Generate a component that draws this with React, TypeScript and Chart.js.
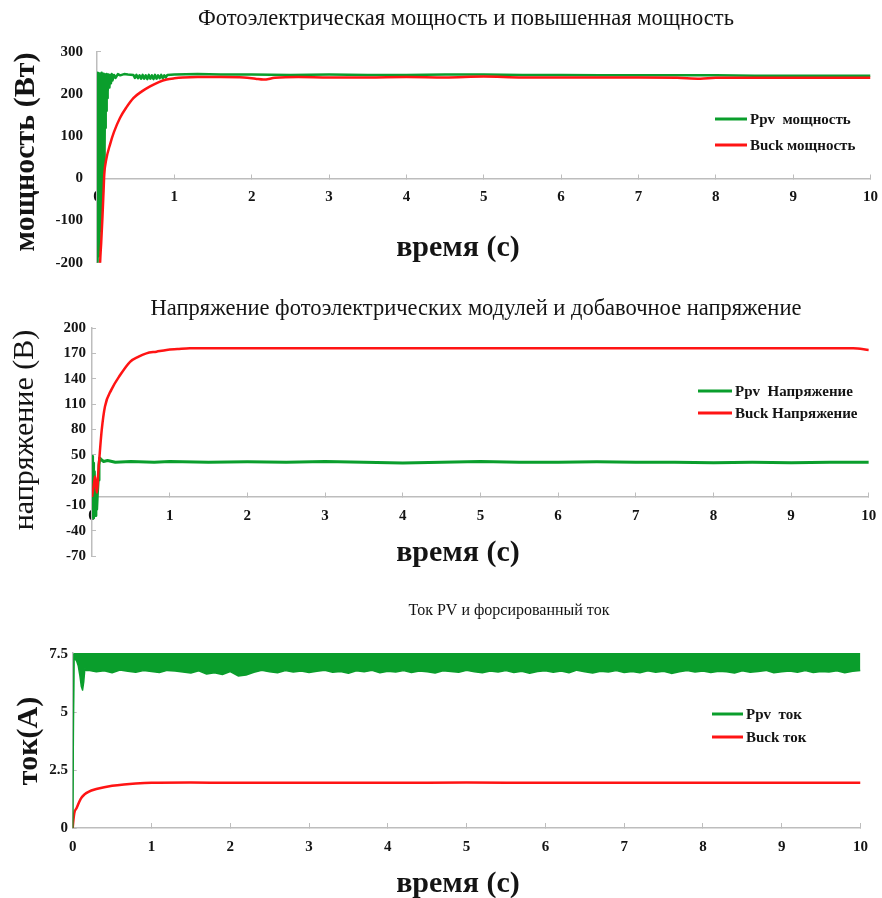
import React, { useEffect, useRef } from "react";
import { Chart, registerables } from "chart.js";
Chart.register(...registerables);

const GREEN = "#0a9e2c";
const RED = "#ff1414";
const AXIS = "#bdbdbd";
const TEXT = "#141414";
const SERIF = "'Liberation Serif', 'Times New Roman', serif";
const TICK_FONT = { family: SERIF, size: 15, weight: "bold" as const };

// ---------- Chart 1: power (W) ----------
const ppvPowerTime = [0, 0.003, 0.006, 0.009, 0.012, 0.016, 0.02, 0.024, 0.028, 0.032, 0.036, 0.04, 0.044, 0.048, 0.052, 0.056, 0.06, 0.064, 0.068, 0.072, 0.076, 0.08, 0.084, 0.088, 0.092, 0.096, 0.1, 0.105, 0.11, 0.115, 0.12, 0.125, 0.13, 0.135, 0.14, 0.15, 0.16, 0.17, 0.18, 0.19, 0.2, 0.22, 0.24, 0.27, 0.3, 0.35, 0.4,
  0.47, 0.49, 0.51, 0.53, 0.55, 0.57, 0.59, 0.61, 0.63, 0.65, 0.67, 0.69, 0.71, 0.73, 0.75, 0.77, 0.79, 0.81, 0.83, 0.85, 0.87, 0.89, 0.91,
  1.0, 1.3, 1.6, 2.0, 2.5, 3.0, 3.5, 4.0, 4.5, 5.0, 5.5, 6.0, 6.5, 7.0, 7.5, 8.0, 8.5, 9.0, 9.5, 10];
const ppvPower = [0, 248, -198, 250, -195, 246, -185, 249, -170, 244, -150, 248, -125, 245, -100, 250, -70, 244, -45, 247, -20, 243, 5, 248, 30, 245, 70, 246, 120, 244, 160, 247, 190, 243, 205, 246, 215, 244, 225, 247, 232, 245, 238, 247, 244, 247, 246,
  245, 238, 245, 237, 244, 236, 245, 236, 244, 235, 245, 236, 244, 235, 245, 236, 244, 237, 245, 237, 244, 239, 245,
  246, 247, 246, 246, 245, 246, 245, 245, 246, 246, 245, 245, 244, 244, 244, 244, 243, 243, 243, 243];
const buckPowerTime = [0.03, 0.04, 0.055, 0.07, 0.085, 0.094, 0.12, 0.168, 0.22, 0.297, 0.38, 0.47, 0.58, 0.686, 0.8, 0.9, 1.0, 1.11, 1.3, 1.6, 1.9, 2.05, 2.15, 2.3, 2.6, 3.0, 3.5, 4.0, 4.5, 5.0, 5.5, 6.0, 6.5, 7.0, 7.5, 7.8, 8.0, 8.5, 9.0, 9.5, 10];
const buckPower = [-260, -200, -150, -94, -30, 9, 45, 80, 110, 143, 168, 190, 206, 218, 228, 234, 237, 239, 240, 240, 239, 236, 234, 238, 240, 239, 239, 240, 239, 241, 239, 239, 239, 239, 238, 236, 238, 238, 238, 238, 238];

// ---------- Chart 2: voltage (V) ----------
const ppvVoltTime = [0, 0.005, 0.01, 0.015, 0.02, 0.03, 0.04, 0.05, 0.06, 0.07, 0.08, 0.09, 0.1, 0.12, 0.15, 0.2, 0.3, 0.5, 0.8, 1, 1.5, 2, 2.5, 3, 3.5, 4, 4.5, 5, 5.5, 6, 6.5, 7, 7.5, 8, 8.5, 9, 9.5, 10];
const ppvVolt = [-5, 48, -20, 40, -25, 30, -22, 15, -15, 5, 20, 38, 46, 44, 42, 43, 41, 42, 41, 42, 41, 41.5, 41, 42, 41, 40, 41, 42, 41, 41, 41.5, 41, 41, 40.5, 41, 40.5, 41, 41];
const buckVoltTime = [0, 0.02, 0.04, 0.055, 0.065, 0.08, 0.1, 0.125, 0.167, 0.25, 0.36, 0.49, 0.6, 0.7, 0.83, 0.96, 1.1, 1.26, 1.5, 2, 3, 4, 5, 6, 7, 8, 9, 9.8, 10];
const buckVolt = [0, 12, 24, 10, 5, 28, 52, 79, 107, 127, 144, 160, 166, 170, 172, 174, 175, 176, 176, 176, 176, 176, 176, 176, 176, 176, 176, 176, 174];

// ---------- Chart 3: current (A) ----------
const currentTime = [0, 0.008, 0.017, 0.03, 0.05, 0.07, 0.09, 0.11, 0.125, 0.14, 0.155, 0.17,
  0.2, 0.3, 0.4, 0.5, 0.6, 0.7, 0.8, 0.9, 1.0,
  1.1, 1.2, 1.3, 1.4, 1.5, 1.6, 1.7, 1.8, 1.9, 2.0,
  2.1, 2.2, 2.3, 2.4, 2.5, 2.6, 2.7, 2.8, 2.9, 3.0,
  3.1, 3.2, 3.3, 3.4, 3.5, 3.6, 3.7, 3.8, 3.9, 4.0,
  4.1, 4.2, 4.3, 4.4, 4.5, 4.6, 4.7, 4.8, 4.9, 5.0,
  5.1, 5.2, 5.3, 5.4, 5.5, 5.6, 5.7, 5.8, 5.9, 6.0,
  6.1, 6.2, 6.3, 6.4, 6.5, 6.6, 6.7, 6.8, 6.9, 7.0,
  7.1, 7.2, 7.3, 7.4, 7.5, 7.6, 7.7, 7.8, 7.9, 8.0,
  8.1, 8.2, 8.3, 8.4, 8.5, 8.6, 8.7, 8.8, 8.9, 9.0,
  9.1, 9.2, 9.3, 9.4, 9.5, 9.6, 9.7, 9.8, 9.9, 10.0];
const ppvCurrentHigh = [0, 3.8, 7.8, 7.8, 7.8, 7.8, 7.8, 7.8, 7.8, 7.8, 7.8, 7.8,
  7.8, 7.8, 7.8, 7.8, 7.8, 7.8, 7.8, 7.8, 7.8,
  7.8, 7.8, 7.8, 7.8, 7.8, 7.8, 7.8, 7.8, 7.8, 7.8,
  7.8, 7.8, 7.8, 7.8, 7.8, 7.8, 7.8, 7.8, 7.8, 7.8,
  7.8, 7.8, 7.8, 7.8, 7.8, 7.8, 7.8, 7.8, 7.8, 7.8,
  7.8, 7.8, 7.8, 7.8, 7.8, 7.8, 7.8, 7.8, 7.8, 7.8,
  7.8, 7.8, 7.8, 7.8, 7.8, 7.8, 7.8, 7.8, 7.8, 7.8,
  7.8, 7.8, 7.8, 7.8, 7.8, 7.8, 7.8, 7.8, 7.8, 7.8,
  7.8, 7.8, 7.8, 7.8, 7.8, 7.8, 7.8, 7.8, 7.8, 7.8,
  7.8, 7.8, 7.8, 7.8, 7.8, 7.8, 7.8, 7.8, 7.8, 7.8,
  7.8, 7.8, 7.8, 7.8, 7.8, 7.8, 7.8, 7.8, 7.8, 7.8];
const ppvCurrentLow = [0, 3.8, 7.5, 7.3, 7.2, 7.0, 6.6, 6.1, 5.95, 6.3, 6.9, 6.8,
  6.80, 6.74, 6.78, 6.70, 6.82, 6.76, 6.72, 6.79, 6.75,
  6.71, 6.80, 6.77, 6.73, 6.69, 6.78, 6.64, 6.70, 6.62, 6.75,
  6.56, 6.60, 6.72, 6.80, 6.74, 6.70, 6.79, 6.73, 6.77, 6.71,
  6.76, 6.81, 6.72, 6.75, 6.68, 6.78, 6.74, 6.80, 6.70, 6.76,
  6.73, 6.79, 6.71, 6.77, 6.74, 6.69, 6.78, 6.75, 6.72, 6.80,
  6.74, 6.70, 6.77, 6.73, 6.79, 6.71, 6.76, 6.68, 6.75, 6.78,
  6.72, 6.77, 6.70, 6.81, 6.74, 6.69, 6.76, 6.73, 6.79, 6.71,
  6.75, 6.70, 6.78, 6.72, 6.76, 6.67, 6.74, 6.79, 6.73, 6.77,
  6.71, 6.76, 6.74, 6.69, 6.78, 6.72, 6.75, 6.80, 6.70, 6.74,
  6.77, 6.72, 6.79, 6.71, 6.75, 6.73, 6.78, 6.70, 6.76, 6.80];
const buckCurrentTime = [0, 0.005, 0.02, 0.05, 0.1, 0.15, 0.2, 0.3, 0.4, 0.5, 0.65, 0.8, 1.0, 1.5, 2, 3, 4, 5, 6, 7, 8, 9, 10];
const buckCurrent = [0, 0.2, 0.64, 0.86, 1.25, 1.45, 1.56, 1.68, 1.76, 1.82, 1.88, 1.92, 1.95, 1.96, 1.95, 1.95, 1.95, 1.96, 1.95, 1.95, 1.95, 1.95, 1.95];

function pts(xs: number[], ys: number[]) {
  const n = Math.min(xs.length, ys.length);
  const out: { x: number; y: number }[] = [];
  for (let i = 0; i < n; i++) out.push({ x: xs[i], y: ys[i] });
  return out;
}

type TextItem = { text: string; x: number; y: number; font: string; rotate?: boolean; baseline?: CanvasTextBaseline };
type LegendSpec = { x: number; len: number; gap: number; ys: number[] };

function overlay(texts: TextItem[], legend: LegendSpec, offsetY: number) {
  return {
    id: "overlay",
    afterDraw(chart: any) {
      const ctx: CanvasRenderingContext2D = chart.ctx;
      ctx.save();
      for (const t of texts) {
        ctx.save();
        ctx.font = t.font;
        ctx.fillStyle = TEXT;
        ctx.textAlign = "center";
        ctx.textBaseline = t.baseline || "middle";
        ctx.translate(t.x, t.y - offsetY);
        if (t.rotate) ctx.rotate(-Math.PI / 2);
        ctx.fillText(t.text, 0, 0);
        ctx.restore();
      }
      const items = chart.data.datasets.filter((d: any) => d.inLegend);
      items.forEach((d: any, i: number) => {
        const y = legend.ys[i] - offsetY;
        ctx.strokeStyle = d.borderColor;
        ctx.lineWidth = 3;
        ctx.beginPath();
        ctx.moveTo(legend.x, y);
        ctx.lineTo(legend.x + legend.len, y);
        ctx.stroke();
        ctx.font = `bold 15px ${SERIF}`;
        ctx.fillStyle = TEXT;
        ctx.textAlign = "left";
        ctx.textBaseline = "middle";
        ctx.fillText(d.label, legend.x + legend.len + legend.gap, y + 1);
      });
      ctx.restore();
    },
  };
}

function xAxis(position: any, pad: number, h: number) {
  return {
    type: "linear",
    min: 0,
    max: 10,
    position,
    ticks: { stepSize: 1, font: TICK_FONT, color: TEXT, padding: pad, maxRotation: 0, autoSkip: false },
    grid: { display: true, drawOnChartArea: false, drawTicks: true, tickLength: -5, color: AXIS, lineWidth: 1 },
    border: { display: true, color: AXIS, width: 1.5 },
    afterFit: (s: any) => { s.height = h; },
  };
}

function yAxis(min: number, max: number, step: number, pad: number, w: number) {
  return {
    type: "linear",
    min,
    max,
    ticks: { stepSize: step, font: TICK_FONT, color: TEXT, padding: pad, includeBounds: false },
    grid: { display: true, drawOnChartArea: false, drawTicks: true, tickLength: -4, color: AXIS, lineWidth: 1 },
    border: { display: true, color: AXIS, width: 1.5 },
    afterFit: (s: any) => { s.width = w; },
  };
}

function baseOptions(scales: any, padding: any) {
  return {
    responsive: false,
    animation: false,
    events: [],
    layout: { padding },
    plugins: { legend: { display: false }, title: { display: false }, tooltip: { enabled: false } },
    elements: { point: { radius: 0 }, line: { borderJoinStyle: "round" } },
    scales,
  };
}

const AXIS_TITLE_BOLD = `bold 30px ${SERIF}`;
const AXIS_TITLE_REG = `30px ${SERIF}`;
const CHART_TITLE = `22.5px ${SERIF}`;
const CHART_TITLE_SMALL = `16px ${SERIF}`;

export default function App() {
  const c1 = useRef<HTMLCanvasElement>(null);
  const c2 = useRef<HTMLCanvasElement>(null);
  const c3 = useRef<HTMLCanvasElement>(null);

  useEffect(() => {
    const charts: Chart[] = [];

    charts.push(new Chart(c1.current as HTMLCanvasElement, {
      type: "line",
      data: {
        datasets: [
          { label: "Ppv  мощность", data: pts(ppvPowerTime, ppvPower), borderColor: GREEN, borderWidth: 2.5, tension: 0, order: 1, inLegend: true } as any,
          { label: "Buck мощность", data: pts(buckPowerTime, buckPower), borderColor: RED, borderWidth: 2.5, cubicInterpolationMode: "monotone", order: 0, inLegend: true } as any,
        ],
      },
      options: baseOptions({ x: xAxis({ y: 0 }, 15, 27.3), y: yAxis(-200, 300, 100, 18, 97) }, { top: 51.7, right: 0, left: 0, bottom: 27.3 }) as any,
      plugins: [overlay([
        { text: "Фотоэлектрическая мощность и повышенная мощность", x: 466, y: 19, font: CHART_TITLE },
        { text: "мощность (Вт)", x: 34, y: 152, font: AXIS_TITLE_BOLD, rotate: true, baseline: "alphabetic" },
        { text: "время (с)", x: 458, y: 248, font: AXIS_TITLE_BOLD },
      ], { x: 715, len: 32, gap: 3, ys: [119, 145] }, 0)],
    }));

    charts.push(new Chart(c2.current as HTMLCanvasElement, {
      type: "line",
      data: {
        datasets: [
          { label: "Ppv  Напряжение", data: pts(ppvVoltTime, ppvVolt), borderColor: GREEN, borderWidth: 3, tension: 0, order: 1, inLegend: true } as any,
          { label: "Buck Напряжение", data: pts(buckVoltTime, buckVolt), borderColor: RED, borderWidth: 2.5, cubicInterpolationMode: "monotone", order: 0, inLegend: true } as any,
        ],
      },
      options: baseOptions({ x: xAxis({ y: 0 }, 15.7, 34), y: yAxis(-70, 200, 30, 10, 92) }, { top: 38, right: 0, left: 0, bottom: 34 }) as any,
      plugins: [overlay([
        { text: "Напряжение фотоэлектрических модулей и добавочное напряжение", x: 476, y: 309, font: CHART_TITLE },
        { text: "напряжение (В)", x: 33, y: 430, font: AXIS_TITLE_REG, rotate: true, baseline: "alphabetic" },
        { text: "время (с)", x: 458, y: 553, font: AXIS_TITLE_BOLD },
      ], { x: 698, len: 34, gap: 3, ys: [391, 413] }, 290)],
    }));

    charts.push(new Chart(c3.current as HTMLCanvasElement, {
      type: "line",
      data: {
        datasets: [
          { label: "Ppv  ток", data: pts(currentTime, ppvCurrentHigh), borderColor: GREEN, backgroundColor: GREEN, borderWidth: 1, fill: "+1", tension: 0, inLegend: true } as any,
          { label: "Ppv  ток (min)", data: pts(currentTime, ppvCurrentLow), borderColor: GREEN, borderWidth: 1.5, tension: 0, fill: false, inLegend: false } as any,
          { label: "Buck ток", data: pts(buckCurrentTime, buckCurrent), borderColor: RED, borderWidth: 2.5, cubicInterpolationMode: "monotone", fill: false, inLegend: true } as any,
        ],
      },
      options: baseOptions({ x: xAxis("bottom", 15, 70), y: yAxis(0, 7.55, 2.5, 8.7, 72.7) }, { top: 63, right: 0, left: 0, bottom: 0 }) as any,
      plugins: [overlay([
        { text: "Ток PV и форсированный ток", x: 509, y: 611, font: CHART_TITLE_SMALL },
        { text: "ток(А)", x: 37, y: 741, font: AXIS_TITLE_BOLD, rotate: true, baseline: "alphabetic" },
        { text: "время (с)", x: 458, y: 884, font: AXIS_TITLE_BOLD },
      ], { x: 712, len: 31, gap: 3, ys: [714, 737] }, 590)],
    }));

    return () => charts.forEach((c) => c.destroy());
  }, []);

  return (
    <div style={{ position: "absolute", left: 0, top: 0, width: 882, height: 898, background: "#fff", overflow: "hidden" }}>
      <canvas ref={c1} width={893} height={290} style={{ position: "absolute", left: 0, top: 0 }} />
      <canvas ref={c2} width={892} height={300} style={{ position: "absolute", left: 0, top: 290 }} />
      <canvas ref={c3} width={883} height={308} style={{ position: "absolute", left: 0, top: 590 }} />
    </div>
  );
}
